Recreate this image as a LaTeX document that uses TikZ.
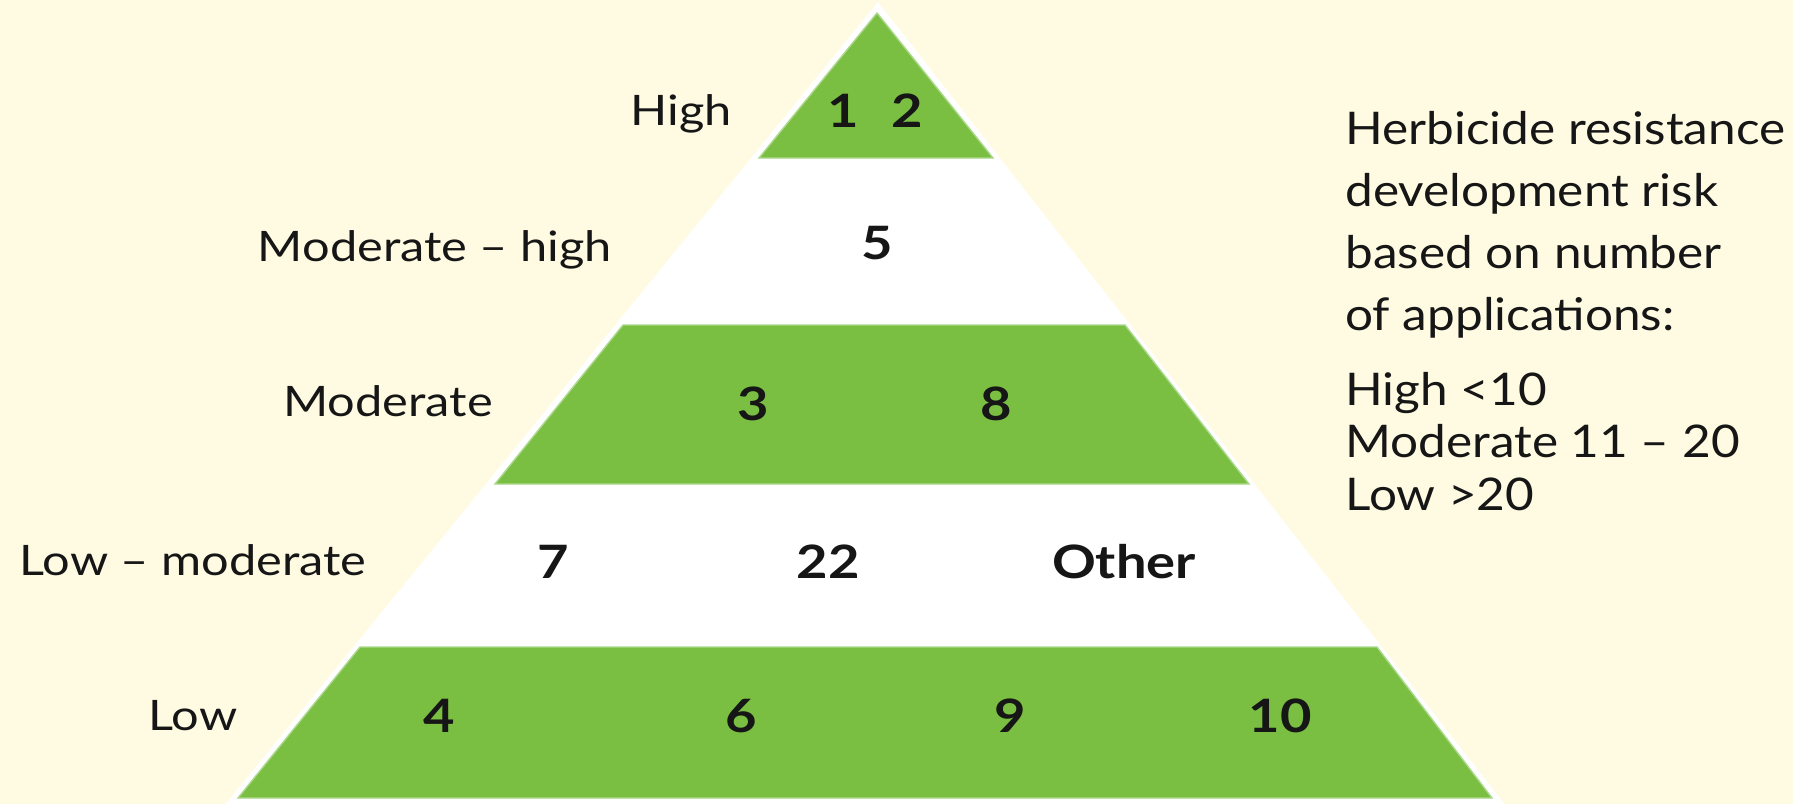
\documentclass[tikz,border=0pt]{standalone}
\usepackage{fontspec}
\setmainfont{Lato}
\newfontfamily\lblfont{Lato}[FakeStretch=1.16,Ligatures=TeX]
\newfontfamily\notefont{Lato}[FakeStretch=1.10,Ligatures=TeX]
\newfontfamily\numfont{Lato}[FakeStretch=1.18,Ligatures=TeX]
\definecolor{bg}{RGB}{255,251,226}
\definecolor{leaf}{RGB}{122,191,66}
\definecolor{leafedge}{RGB}{172,216,140}
\definecolor{ink}{RGB}{22,22,22}
\tikzset{
  band/.style={fill=leaf, draw=leafedge, line width=0.7pt, line join=miter},
  lbl/.style={font=\lblfont\fontsize{21}{25}\selectfont, text=ink, anchor=base, inner sep=0pt},
  num/.style={font=\numfont\fontsize{23}{27}\selectfont\bfseries, text=ink, anchor=base, inner sep=0pt},
  note/.style={font=\notefont\fontsize{22.5}{27}\selectfont, text=ink, anchor=base west, inner sep=0pt}
}
\begin{document}
\begin{tikzpicture}[x=0.5pt,y=-0.5pt]
\useasboundingbox (0,0) rectangle (1793,804);
\fill[bg] (0,0) rectangle (1793,804);
% white pyramid
\fill[white] (878,2) -- (1506,806) -- (224,806) -- cycle;
% green bands
\path[band] (877,13) -- (993,158) -- (759,158) -- cycle;
\path[band] (623,325) -- (1125,325) -- (1249,484) -- (495,484) -- cycle;
\path[band] (360,647) -- (1377,647) -- (1492,798) -- (238,798) -- cycle;
% level labels
\node[lbl] (lhigh) at (681,125) {High};
\node[lbl] (lmodhigh) at (435,261) {Moderate – high};
\node[lbl] (lmod) at (388,416) {Moderate};
\node[lbl] (llowmod) at (193,575) {Low – moderate};
\node[lbl] (llow) at (193,730) {Low};
% numbers
\node[num] (n1) at (843,127) {1};
\node[num] (n2) at (907,127) {2};
\node[num] (n5) at (877,259) {5};
\node[num] (n3) at (753,420) {3};
\node[num] (n8) at (996,420) {8};
\node[num] (n7) at (553,578) {7};
\node[num] (n22) at (828,578) {22};
\node[num] (nother) at (1124,578) {Other};
\node[num] (n4) at (439,732) {4};
\node[num] (n6) at (741,732) {6};
\node[num] (n9) at (1010,732) {9};
\node[num] (n10) at (1280,732) {10};
% note
\node[note] (t1) at (1345,144) {Herbicide resistance};
\node[note] (t2) at (1345,206) {development risk};
\node[note] (t3) at (1345,268) {based on number};
\node[note] (t4) at (1345,330) {of applications:};
\node[note] (t5) at (1345,405) {High <10};
\node[note] (t6) at (1345,457) {Moderate 11 – 20};
\node[note] (t7) at (1345,510) {Low >20};
\end{tikzpicture}
\end{document}
